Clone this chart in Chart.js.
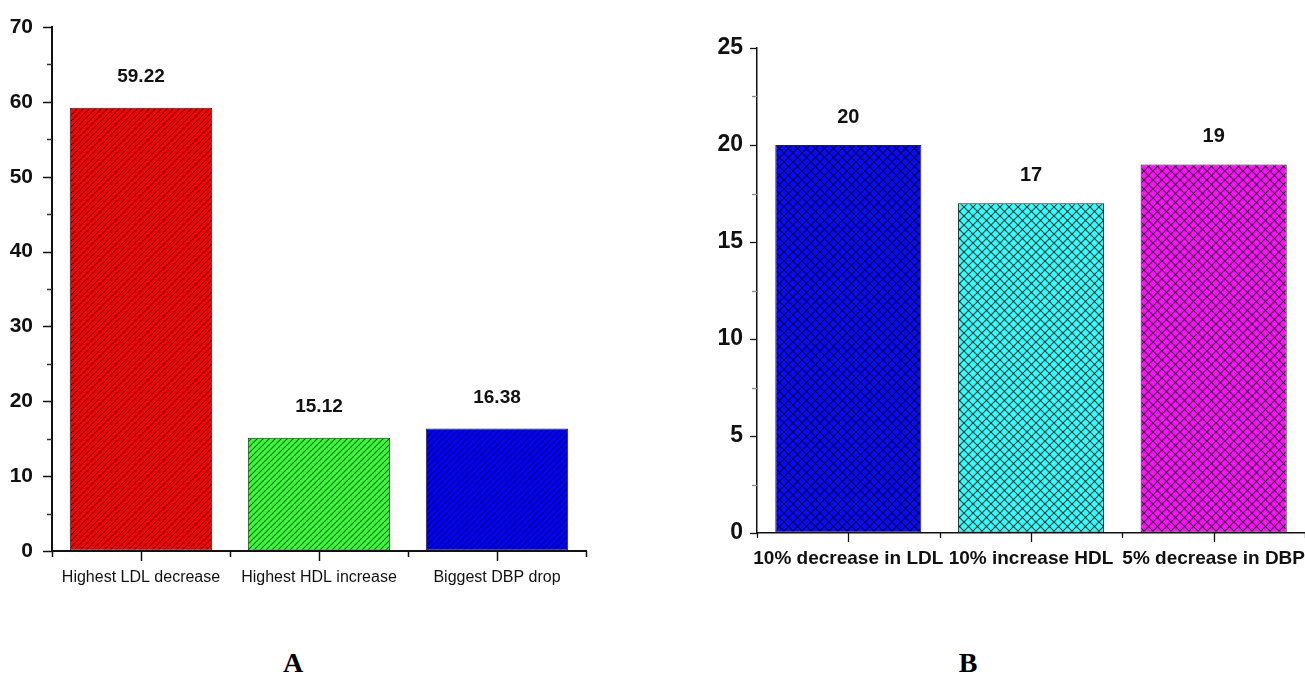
<!DOCTYPE html>
<html>
<head>
<meta charset="utf-8">
<script src="https://cdn.jsdelivr.net/npm/chart.js@4/dist/chart.umd.min.js"></script>
<style>
  html, body { margin: 0; padding: 0; background: #fff; overflow: hidden; }
  body { width: 1305px; height: 697px; position: relative; }
  .panel { position: absolute; }
  #wrapA { left: 0; top: 0; width: 600px; height: 620px; }
  #wrapB { left: 640px; top: 0; width: 690px; height: 620px; }
  .tag { position: absolute; font-family: "Liberation Serif", serif; font-weight: bold;
         font-size: 28px; color: #000; transform: translate(-50%, -50%); }
</style>
</head>
<body>
<div id="wrapA" class="panel"><canvas id="chartA" width="600" height="620"></canvas></div>
<div id="wrapB" class="panel"><canvas id="chartB" width="690" height="620"></canvas></div>
<div class="tag" style="left:293px; top:663px;">A</div>
<div class="tag" style="left:968px; top:663px;">B</div>

<script>
// Panel A: largest individual changes
const categoriesA = ['Highest LDL decrease', 'Highest HDL increase', 'Biggest DBP drop'];
const valuesA = [59.22, 15.12, 16.38];
const coloursA = ['#ff0000', '#33ff33', '#0000ff'];

// Panel B: number of participants reaching each target
const categoriesB = ['10% decrease in LDL', '10% increase HDL', '5% decrease in DBP'];
const valuesB = [20, 17, 19];
const coloursB = ['#0a0aff', '#33ffff', '#ff11ff'];

// Diagonal "/" hatch fill
function hatch(colour) {
  const w = 6, h = 6;
  const c = document.createElement('canvas');
  c.width = w; c.height = h;
  const g = c.getContext('2d');
  g.fillStyle = colour; g.fillRect(0, 0, w, h);
  g.strokeStyle = 'rgba(0,0,0,0.6)'; g.lineWidth = 1.2;
  for (const dx of [-w, 0, w]) {
    g.beginPath(); g.moveTo(dx, h); g.lineTo(dx + w, 0); g.stroke();
  }
  return g.createPattern(c, 'repeat');
}

// Diamond cross-hatch fill
function crossHatch(colour) {
  const s = 9;
  const c = document.createElement('canvas');
  c.width = s; c.height = s;
  const g = c.getContext('2d');
  g.fillStyle = colour; g.fillRect(0, 0, s, s);
  g.strokeStyle = 'rgba(0,0,0,0.72)'; g.lineWidth = 1.2;
  for (const dx of [-s, 0, s]) {
    g.beginPath(); g.moveTo(dx, 0); g.lineTo(dx + s, s); g.stroke();
    g.beginPath(); g.moveTo(dx, s); g.lineTo(dx + s, 0); g.stroke();
  }
  return g.createPattern(c, 'repeat');
}

// Major/minor tick marks on both axes
const tickMarks = {
  id: 'tickMarks',
  afterDraw(chart, args, o) {
    const { ctx, chartArea } = chart;
    const x = chart.scales.x, y = chart.scales.y;
    const line = (x1, y1, x2, y2) => { ctx.beginPath(); ctx.moveTo(x1, y1); ctx.lineTo(x2, y2); ctx.stroke(); };
    ctx.save();
    ctx.lineWidth = o.width;
    y.ticks.forEach(t => {
      const py = Math.round(y.getPixelForValue(t.value)) + 0.5;
      const major = Math.abs(t.value / o.yMajor - Math.round(t.value / o.yMajor)) < 1e-6;
      ctx.strokeStyle = major ? o.colour : o.minorColour;
      line(chartArea.left - (major ? o.yMajorLen : o.yMinorLen), py, chartArea.left, py);
    });
    ctx.strokeStyle = o.colour;
    const n = chart.data.labels.length;
    for (let i = 0; i < n; i++) {
      const px = Math.round(x.getPixelForValue(i)) + 0.5;
      line(px, chartArea.bottom, px, chartArea.bottom + o.xMajorLen);
    }
    for (let i = 0; i <= n; i++) {
      const px = Math.round(x.getPixelForValue(i - 0.5)) + 0.5;
      line(px, chartArea.bottom, px, chartArea.bottom + o.xMinorLen);
    }
    ctx.restore();
  }
};

// Value printed above each bar
const barValues = {
  id: 'barValues',
  afterDatasetsDraw(chart, args, o) {
    const { ctx } = chart;
    const meta = chart.getDatasetMeta(0);
    const data = chart.data.datasets[0].data;
    ctx.save();
    ctx.font = o.font;
    ctx.fillStyle = '#111';
    ctx.textAlign = 'center';
    ctx.textBaseline = 'middle';
    meta.data.forEach((bar, i) => {
      ctx.fillText(o.format(data[i]), bar.x, bar.y - o.offset);
    });
    ctx.restore();
  }
};

function makeChart(id, cfg) {
  return new Chart(document.getElementById(id), {
    type: 'bar',
    data: {
      labels: cfg.labels,
      datasets: [{
        data: cfg.values,
        backgroundColor: cfg.fills,
        borderColor: '#222',
        borderWidth: 1,
        borderSkipped: false,
        categoryPercentage: 1,
        barPercentage: 0.8
      }]
    },
    options: {
      responsive: false,
      animation: false,
      layout: { padding: cfg.padding },
      plugins: {
        legend: { display: false },
        tooltip: { enabled: false },
        tickMarks: cfg.ticks,
        barValues: cfg.barValues
      },
      scales: {
        x: {
          offset: true,
          grid: { display: true, drawOnChartArea: false, drawTicks: true, tickLength: cfg.xTickSpace, tickColor: 'transparent', offset: true },
          border: { display: true, color: '#111', width: cfg.axisWidth },
          ticks: { autoSkip: false, maxRotation: 0, minRotation: 0, padding: cfg.xPad, color: '#111', font: cfg.xFont },
          afterFit: s => { s.height = cfg.xHeight; }
        },
        y: {
          min: 0, max: cfg.yMax,
          grid: { display: true, drawOnChartArea: false, drawTicks: true, tickLength: cfg.yTickSpace, tickColor: 'transparent' },
          border: { display: true, color: '#111', width: cfg.axisWidth },
          ticks: {
            stepSize: cfg.yStep, padding: cfg.yPad, color: '#111', font: cfg.yFont,
            callback: v => (Math.abs(v / cfg.yMajor - Math.round(v / cfg.yMajor)) < 1e-6 ? String(v) : '')
          },
          afterFit: s => { s.width = cfg.yWidth; }
        }
      }
    },
    plugins: [tickMarks, barValues]
  });
}

makeChart('chartA', {
  labels: categoriesA,
  values: valuesA,
  fills: coloursA.map(hatch),
  padding: { left: 0, top: 27, right: 14, bottom: 0 },
  yMax: 70, yStep: 5, yMajor: 10,
  yWidth: 52, xHeight: 69,
  axisWidth: 2,
  xTickSpace: 6, xPad: 11,
  yTickSpace: 9, yPad: 10,
  xFont: { family: '"Liberation Sans", sans-serif', size: 16 },
  yFont: { family: '"Liberation Sans", sans-serif', size: 21, weight: 'bold' },
  ticks: { width: 1.5, colour: '#111', minorColour: '#333', yMajor: 10, yMajorLen: 9, yMinorLen: 5, xMajorLen: 10, xMinorLen: 6 },
  barValues: { font: 'bold 19px "Liberation Sans", sans-serif', offset: 31, format: v => v.toFixed(2) }
});

makeChart('chartB', {
  labels: categoriesB,
  values: valuesB,
  fills: coloursB.map(crossHatch),
  padding: { left: 0, top: 48, right: 25, bottom: 0 },
  yMax: 25, yStep: 2.5, yMajor: 5,
  yWidth: 117, xHeight: 87,
  axisWidth: 1.5,
  xTickSpace: 5, xPad: 9,
  xFont: { family: '"Liberation Sans", sans-serif', size: 19, weight: 'bold' },
  yTickSpace: 7, yPad: 7,
  yFont: { family: '"Liberation Sans", sans-serif', size: 23, weight: 'bold' },
  ticks: { width: 1.3, colour: '#111', minorColour: '#888', yMajor: 5, yMajorLen: 7, yMinorLen: 5, xMajorLen: 9, xMinorLen: 5 },
  barValues: { font: 'bold 20px "Liberation Sans", sans-serif', offset: 28, format: v => String(v) }
});
</script>
</body>
</html>
